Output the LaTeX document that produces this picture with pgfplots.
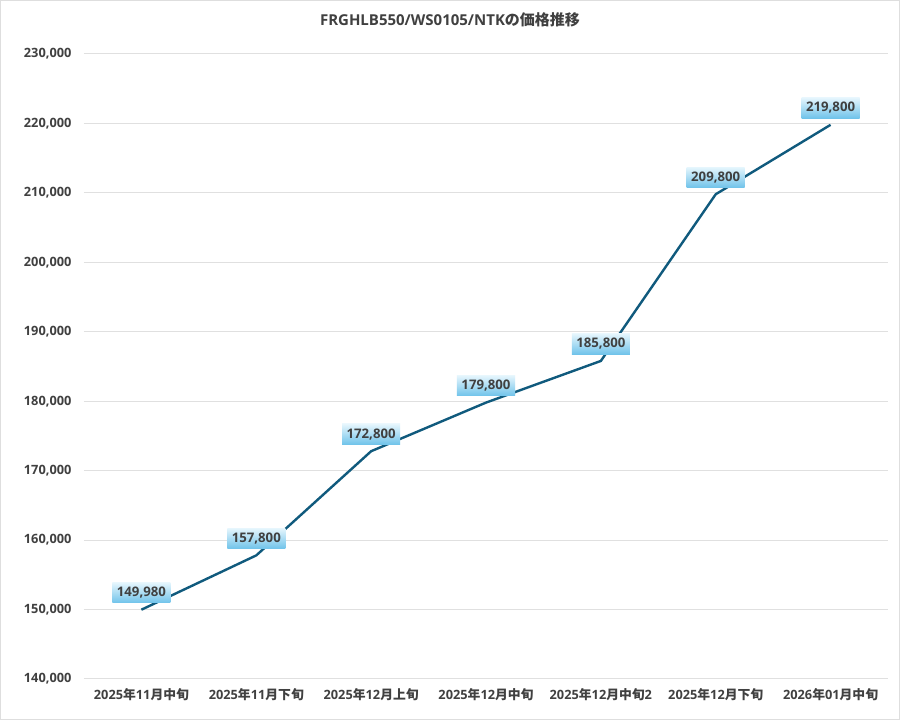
\documentclass[border=0pt]{standalone}
\usepackage{pgfplots}
\pgfplotsset{compat=1.18}
\usepackage{fontspec}
\setmainfont{Open Sans}
\newfontfamily\cjk{Noto Sans CJK JP}
\definecolor{linec}{RGB}{16,90,125}
\definecolor{textc}{RGB}{64,64,64}
\definecolor{gridc}{RGB}{224,224,224}
\definecolor{bordc}{RGB}{222,222,222}
\definecolor{boxtop}{RGB}{230,246,253}
\definecolor{boxbot}{RGB}{112,195,234}
\newcommand\lab[3]{#1{\cjk 年}#2{\cjk 月#3}}
\begin{document}
\begin{tikzpicture}
\useasboundingbox (0pt,0pt) rectangle (900pt,720pt);
\fill[white] (0pt,0pt) rectangle (900pt,720pt);
\draw[line width=1.2pt, color=bordc] (0.6pt,0.6pt) rectangle (899.4pt,719.4pt);
\node[font=\bfseries\fontsize{15}{17}\selectfont, text=textc] at (450pt,700pt) {FRGHLB550/WS0105/NTK{\cjk の価格推移}};
\begin{axis}[
  at={(84pt,41pt)}, anchor=south west,
  scale only axis, width=804pt, height=625pt,
  xmin=-0.5, xmax=6.5, ymin=140000, ymax=230000,
  ytick={140000,150000,...,230000},
  xtick={0,...,6},
  xticklabels={{\lab{2025}{11}{中旬}},{\lab{2025}{11}{下旬}},{\lab{2025}{12}{上旬}},{\lab{2025}{12}{中旬}},{\lab{2025}{12}{中旬}2},{\lab{2025}{12}{下旬}},{\lab{2026}{01}{中旬}}},
  scaled y ticks=false,
  /pgf/number format/assume math mode=true,
  yticklabel={\pgfmathprintnumber[fixed,1000 sep={,}]{\tick}},
  ymajorgrids, major grid style={gridc, line width=1pt},
  axis line style={draw=none},
  major tick length=0pt,
  tick label style={font=\bfseries\fontsize{12.8}{14}\selectfont, text=textc},
  yticklabel style={xshift=-9pt},
  xticklabel style={yshift=-6pt},
  clip=false,
  point meta=explicit symbolic,
  nodes near coords,
  nodes near coords style={anchor=center, yshift=17pt, font=\bfseries\fontsize{13.2}{14}\selectfont, text=textc, top color=boxtop, bottom color=boxbot, inner xsep=4.5pt, inner ysep=0pt, minimum height=20.5pt},
]
\addplot[linec, line width=2.4pt, mark=none] coordinates {
(0,149980) [149,980]
(1,157800) [157,800]
(2,172800) [172,800]
(3,179800) [179,800]
(4,185800) [185,800]
(5,209800) [209,800]
(6,219800) [219,800]
};
\end{axis}
\end{tikzpicture}
\end{document}
